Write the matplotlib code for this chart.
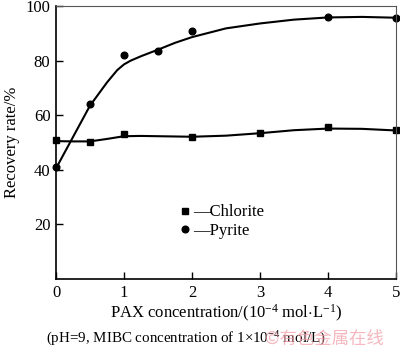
import matplotlib
matplotlib.use("Agg")
import matplotlib.pyplot as plt
from matplotlib.lines import Line2D

plt.rcParams['font.family'] = ['Liberation Serif', 'DejaVu Serif']
plt.rcParams['mathtext.fontset'] = 'custom'
plt.rcParams['mathtext.rm'] = 'Liberation Serif'
plt.rcParams['mathtext.it'] = 'Liberation Serif:italic'

# measured points
x_chlorite = [0, 0.5, 1, 2, 3, 4, 5]
y_chlorite = [50.8, 50.2, 53.1, 52.0, 53.5, 55.7, 54.6]
x_pyrite = [0, 0.5, 1, 1.5, 2, 4, 5]
y_pyrite = [41.0, 64.1, 82.0, 83.5, 90.8, 96.0, 95.7]

# fitted curves
xc_curve = [0, 0.25, 0.5, 0.75, 1, 1.25, 1.5, 2, 2.5, 3, 3.5, 4, 4.5, 5]
yc_curve = [50.5, 50.4, 50.4, 51.3, 52.3, 52.4, 52.3, 52.1, 52.5, 53.4, 54.5, 55.1, 55.0, 54.4]
xp_curve = [0, 0.25, 0.5, 0.75, 0.9, 1, 1.1, 1.25, 1.5, 1.75, 2, 2.5, 3, 3.5, 4, 4.5, 5]
yp_curve = [40.5, 52.0, 63.5, 72.0, 76.5, 78.6, 80.0, 81.6, 84.0, 86.5, 88.6, 91.8, 93.6, 95.0, 95.8, 96.0, 95.7]

xticks = [0, 1, 2, 3, 4, 5]
yticks = [20, 40, 60, 80, 100]

fig = plt.figure(figsize=(4.0, 3.52), dpi=100)
ax = fig.add_axes([0.14, 0.2074, 0.85, 0.7756])

ax.plot(xc_curve, yc_curve, color='black', lw=1.5)
ax.plot(xp_curve, yp_curve, color='black', lw=1.5)
ax.plot(x_chlorite, y_chlorite, 's', color='black', ms=4.5, clip_on=False)
ax.plot(x_pyrite, y_pyrite, 'o', color='black', ms=4.8, clip_on=False)

ax.set_xlim(0, 5)
ax.set_ylim(0, 100)
ax.set_xticks(xticks)
ax.set_yticks(yticks)
ax.tick_params(direction='in', length=5, width=1, labelsize=12, pad=4)
for s in ['left', 'bottom']:
    ax.spines[s].set_linewidth(1.2)
for s in ['top', 'right']:
    ax.spines[s].set_linewidth(0.8)
    ax.spines[s].set_color('#555555')

ax.set_ylabel('Recovery rate/%', fontsize=12, labelpad=4)
ax.set_xlabel('PAX concentration/(10$^{-4}$ mol$\\cdot$L$^{-1}$)', fontsize=12, labelpad=2)

handles = [Line2D([], [], marker='s', ls='none', color='black', ms=4.5),
           Line2D([], [], marker='o', ls='none', color='black', ms=4.8)]
ax.legend(handles, ['\u2014Chlorite', '\u2014Pyrite'], loc='center left',
          bbox_to_anchor=(0.34, 0.21), frameon=False, fontsize=12,
          handlelength=0.6, handletextpad=0.2, labelspacing=0.15, borderpad=0)

fig.text(0.464, 0.037, '(pH=9, MIBC concentration of 1\u00d710$^{-4}$ mol/L)',
         fontsize=10.8, ha='center', va='center')
fig.text(0.81, 0.038, '\u00a9有色金属在线', fontsize=12.5, color='#f2a0a8', alpha=0.75,
         ha='center', va='center', family=['Noto Sans CJK SC', 'DejaVu Sans'])

fig.savefig('out.png', dpi=100)
